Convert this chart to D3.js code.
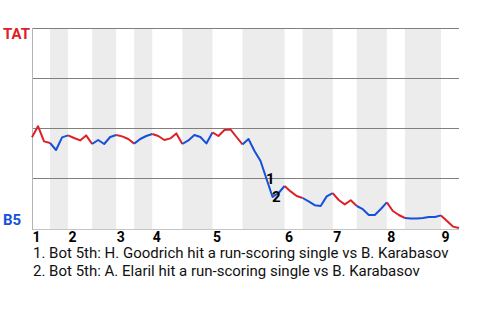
<!DOCTYPE html>
<html>
<head>
<meta charset="utf-8">
<script src="https://cdn.jsdelivr.net/npm/d3@7"></script>
<style>
  body { margin: 0; background: #fff; }
  svg { display: block; font-family: Roboto, sans-serif; }
</style>
</head>
<body>
<div id="chart"></div>
<script>
// win probability for TAT after each plate appearance (0 = start of game)
const winProb = [
  0.454, 0.509, 0.433, 0.425, 0.39, 0.453, 0.463, 0.45, 0.438, 0.463,
  0.42, 0.44, 0.42, 0.455, 0.465, 0.458, 0.445, 0.422, 0.445, 0.46,
  0.47, 0.46, 0.44, 0.448, 0.473, 0.42, 0.438, 0.465, 0.455, 0.423,
  0.478, 0.46, 0.49, 0.493, 0.455, 0.418, 0.445, 0.385, 0.335, 0.245,
  0.155, 0.175, 0.21, 0.183, 0.16, 0.15, 0.133, 0.114, 0.11, 0.158,
  0.174, 0.14, 0.118, 0.139, 0.11, 0.094, 0.065, 0.065, 0.095, 0.128,
  0.085, 0.065, 0.05, 0.047, 0.047, 0.05, 0.055, 0.055, 0.063, 0.035,
  0.007, 0.0
]
// plate appearances per half inning (top 1, bot 1, top 2, ...)
const halfInningPAs = [3, 3, 4, 4, 3, 3, 5, 5, 5, 7, 3, 5, 4, 5, 3, 6, 3]
const innings = ["1", "2", "3", "4", "5", "6", "7", "8", "9"]
const teams = {away: "TAT", home: "B5"}
const markers = [
  {pa: 39, label: "1", note: "1. Bot 5th: H. Goodrich hit a run-scoring single vs B. Karabasov"},
  {pa: 40, label: "2", note: "2. Bot 5th: A. Elaril hit a run-scoring single vs B. Karabasov"}
]

const red = "#dc2128", blue = "#1450dc"
const width = 480, height = 320
const svg = d3.select("#chart").append("svg")
  .attr("width", width).attr("height", height)

const x = d3.scaleLinear().domain([0, winProb.length - 1]).range([32, 459])
const y = d3.scaleLinear().domain([0, 1]).range([228, 28])

// half inning boundaries
let bounds = [0]
halfInningPAs.forEach(n => bounds.push(bounds[bounds.length - 1] + n))

// shaded bottom halves
svg.append("g").selectAll("rect")
  .data(d3.range(1, halfInningPAs.length, 2))
  .join("rect")
    .attr("x", i => x(bounds[i]))
    .attr("width", i => x(bounds[i + 1]) - x(bounds[i]))
    .attr("y", y(1))
    .attr("height", y(0) - y(1) + 1.5)
    .attr("fill", "#ececec")

// gridlines
svg.append("g").selectAll("line")
  .data([1, 0.75, 0.5, 0.25])
  .join("line")
    .attr("x1", x(0)).attr("x2", x(winProb.length - 1))
    .attr("y1", d => y(d) + 0.5).attr("y2", d => y(d) + 0.5)
    .attr("stroke", "#808080")
    .attr("stroke-width", 1.2)

svg.append("line")
  .attr("x1", x(0)).attr("x2", x(winProb.length - 1))
  .attr("y1", y(0) + 1.5).attr("y2", y(0) + 1.5)
  .attr("stroke", "#c4c4c4")
svg.append("line")
  .attr("x1", x(0) + 0.5).attr("x2", x(0) + 0.5)
  .attr("y1", y(1)).attr("y2", y(0) + 2)
  .attr("stroke", "#b4b4b4")

// win probability line, coloured by half inning
const line = d3.line().x(d => x(d)).y(d => y(winProb[d]))
svg.append("g").selectAll("path")
  .data(halfInningPAs.map((n, i) => i))
  .join("path")
    .attr("d", i => line(d3.range(bounds[i], bounds[i + 1] + 1)))
    .attr("fill", "none")
    .attr("stroke", i => i % 2 == 0 ? red : blue)
    .attr("stroke-width", 2)
    .attr("stroke-linejoin", "round")

// team labels
svg.append("text").text(teams.away)
  .attr("x", 3).attr("y", 39)
  .attr("fill", red)
  .style("font-size", "15px").style("font-weight", "bold")
svg.append("text").text(teams.home)
  .attr("x", 3).attr("y", 225)
  .attr("fill", blue)
  .style("font-size", "15px").style("font-weight", "bold")

// inning labels
svg.append("g").selectAll("text")
  .data(innings)
  .join("text")
    .text(d => d)
    .attr("x", (d, i) => x(bounds[i * 2]) + 0.5)
    .attr("y", 242)
    .style("font-size", "14px").style("font-weight", "bold")

// markers
svg.append("g").selectAll("text")
  .data(markers)
  .join("text")
    .text(d => d.label)
    .attr("x", d => x(d.pa) - 0.5)
    .attr("y", d => y(winProb[d.pa]))
    .attr("dy", "0.36em")
    .style("font-size", "15px").style("font-weight", "bold")

svg.append("g").selectAll("text")
  .data(markers)
  .join("text")
    .text(d => d.note)
    .attr("x", 33)
    .attr("y", (d, i) => 257.5 + i * 18.5)
    .attr("fill", "#111")
    .style("font-size", "15px")
</script>
</body>
</html>
